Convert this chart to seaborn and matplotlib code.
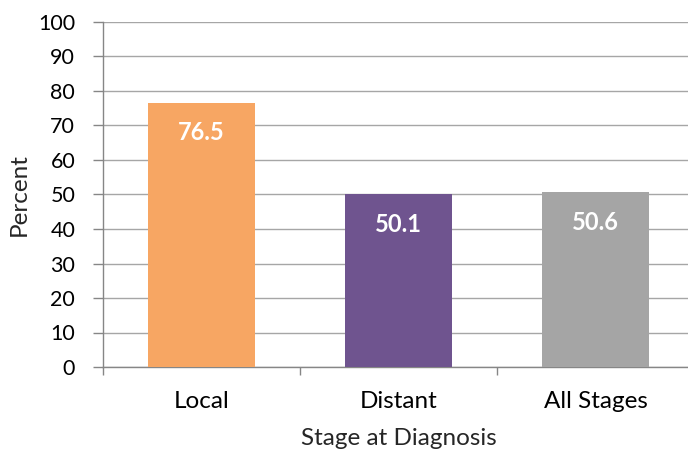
import matplotlib
matplotlib.use("Agg")
import matplotlib.pyplot as plt
import seaborn as sns
import pandas as pd

stages = ["Local", "Distant", "All Stages"]
percent = [76.5, 50.1, 50.6]
bar_colors = ["#F7A663", "#6F548F", "#A5A5A5"]
y_ticks = [0, 10, 20, 30, 40, 50, 60, 70, 80, 90, 100]

sns.set_theme(style="white")
plt.rcParams["font.family"] = ["Lato", "DejaVu Sans"]

df = pd.DataFrame({"Stage": stages, "Percent": percent})

fig = plt.figure(figsize=(6.88, 4.51), dpi=100)
W, H = 688, 451
ax = fig.add_axes([103 / W, (H - 367) / H, (694 - 103) / W, (367 - 22) / H])

sns.barplot(data=df, x="Stage", y="Percent", hue="Stage", palette=bar_colors,
            width=0.545, saturation=1, legend=False, ax=ax, zorder=3,
            linewidth=0, edgecolor="none")

ax.set_ylim(0, 100)
ax.set_xlim(-0.5, 2.5)
ax.set_yticks(y_ticks)
ax.yaxis.grid(True, color="#A6A6A6", linewidth=1.0, zorder=0)
ax.set_axisbelow(True)

for side in ["top", "right"]:
    ax.spines[side].set_visible(False)
for side in ["left", "bottom"]:
    ax.spines[side].set_color("#868686")
    ax.spines[side].set_linewidth(1.0)

ax.tick_params(axis="y", which="major", left=True, length=7, width=1.0,
               color="#868686", pad=13, labelsize=15.5, labelcolor="black")
ax.set_xticks([0, 1, 2])
ax.set_xticks([-0.5, 0.5, 1.5, 2.5], minor=True)
ax.tick_params(axis="x", which="major", bottom=False, length=0, pad=17,
               labelsize=17.5, labelcolor="black")
ax.tick_params(axis="x", which="minor", bottom=True, length=6, width=1.0,
               color="#868686")

ax.set_xlabel("Stage at Diagnosis", fontsize=17.5, labelpad=12)
ax.set_ylabel("Percent", fontsize=17.5)
ax.yaxis.label.set_verticalalignment("center")
ax.yaxis.set_label_coords((19 - 103) / 591, 0.5)

for i, v in enumerate(percent):
    ax.annotate(f"{v:.1f}", xy=(i, v), xytext=(0, -21.5), textcoords="offset points",
                ha="center", va="center", color="white", fontsize=17,
                fontweight="bold", zorder=5)

fig.savefig("out.png", dpi=100)
